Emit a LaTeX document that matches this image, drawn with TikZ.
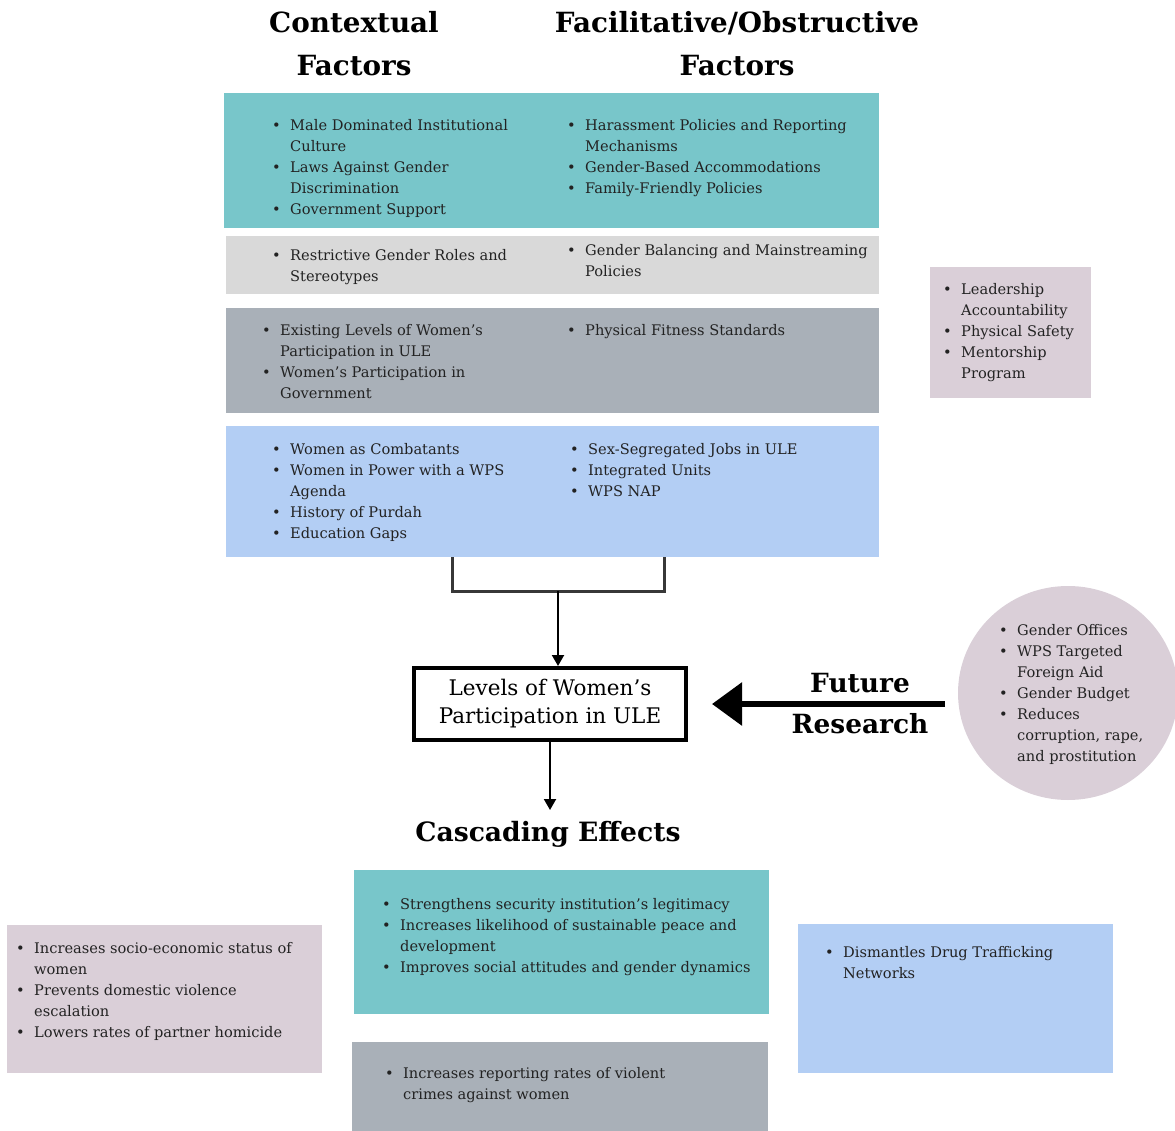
\documentclass[tikz,border=0pt]{standalone}
\usepackage{fontspec}
\setmainfont{DejaVu Serif}
\usetikzlibrary{arrows.meta,positioning,shapes.geometric}

\definecolor{tealbox}{HTML}{78C6CA}
\definecolor{lightbox}{HTML}{D9D9D9}
\definecolor{greybox}{HTML}{A9B0B8}
\definecolor{bluebox}{HTML}{B3CEF4}
\definecolor{mauvebox}{HTML}{DACFD8}
\definecolor{inkgrey}{HTML}{222222}

% bulleted list with fixed line breaks
\newcommand{\blist}[1]{\begin{tabular}[t]{@{}p{18pt}@{}l@{}}#1\end{tabular}}
\newcommand{\bi}{\textbullet &}

\begin{document}
\begin{tikzpicture}[%
    x=1pt, y=-1pt,
    >={Triangle[length=11pt,width=12pt]},
    box/.style={rectangle, inner sep=0pt, anchor=north west},
    lst/.style={anchor=base west, inner sep=0pt, text=inkgrey,
      font=\fontsize{14.6}{21}\selectfont},
    head/.style={align=center, inner sep=0pt,
      font=\bfseries\fontsize{27.8}{43}\selectfont}
  ]
  \clip (0,0) rectangle (1175,1131);

  % factor boxes
  \node[box, fill=tealbox,  minimum width=655pt, minimum height=135pt] (fac1) at (224,93) {};
  \node[box, fill=lightbox, minimum width=653pt, minimum height=58pt]  (fac2) at (226,236) {};
  \node[box, fill=greybox,  minimum width=653pt, minimum height=105pt] (fac3) at (226,308) {};
  \node[box, fill=bluebox,  minimum width=653pt, minimum height=131pt] (fac4) at (226,426) {};
  \node[box, fill=mauvebox, minimum width=161pt, minimum height=131pt] (side) at (930,267) {};

  \node[head] (ctx) at (354,44) {Contextual\\Factors};
  \node[head] (fob) at (737,44) {Facilitative/Obstructive\\Factors};

  \node[lst] (l1) at (272,131) {\blist{\bi Male Dominated Institutional\\ & Culture\\ \bi Laws Against Gender\\ & Discrimination\\ \bi Government Support}};
  \node[lst] (r1) at (567,131) {\blist{\bi Harassment Policies and Reporting\\ & Mechanisms\\ \bi Gender-Based Accommodations\\ \bi Family-Friendly Policies}};
  \node[lst] (l2) at (272,261) {\blist{\bi Restrictive Gender Roles and\\ & Stereotypes}};
  \node[lst] (r2) at (567,256) {\blist{\bi Gender Balancing and Mainstreaming\\ & Policies}};
  \node[lst] (l3) at (262,336) {\blist{\bi Existing Levels of Women's\\ & Participation in ULE\\ \bi Women's Participation in\\ & Government}};
  \node[lst] (r3) at (567,336) {\blist{\bi Physical Fitness Standards}};
  \node[lst] (l4) at (272,454) {\blist{\bi Women as Combatants\\ \bi Women in Power with a WPS\\ & Agenda\\ \bi History of Purdah\\ \bi Education Gaps}};
  \node[lst] (r4) at (570,454) {\blist{\bi Sex-Segregated Jobs in ULE\\ \bi Integrated Units\\ \bi WPS NAP}};
  \node[lst] (sl) at (943,295) {\blist{\bi Leadership\\ & Accountability\\ \bi Physical Safety\\ \bi Mentorship\\ & Program}};

  % bracket and arrow into the outcome box
  \coordinate (bl) at (452,557);
  \coordinate (br) at (664,557);
  \coordinate (brk) at (558,591);
  \draw[line width=3pt, color=inkgrey!90] (bl) -- (bl |- brk) -- (br |- brk) -- (br);

  \node[draw, line width=4pt, minimum width=272pt, minimum height=72pt, align=center,
    font=\fontsize{21.5}{28}\selectfont] (ule) at (550,704) {Levels of Women's\\Participation in ULE};
  \draw[->, line width=2pt] (brk) -- (brk |- ule.north);

  \node[head, font=\bfseries\fontsize{26.6}{40}\selectfont] (casc) at (548,834) {Cascading Effects};
  \draw[->, line width=2pt] (ule.south) -- ++(0,68);

  % future research
  \node[ellipse, fill=mauvebox, minimum width=220pt, minimum height=214pt] (fut) at (1068,693) {};
  \node[lst] (fl) at (999,635) {\blist{\bi Gender Offices\\ \bi WPS Targeted\\ & Foreign Aid\\ \bi Gender Budget\\ \bi Reduces\\ & corruption, rape,\\ & and prostitution}};
  \node[head, font=\bfseries\fontsize{26.4}{41}\selectfont] (frs) at (860,704) {Future\\Research};
  \coordinate (fr) at (945,704);
  \draw[-{Triangle[length=30pt,width=42pt]}, line width=6pt] (fr) -- ([xshift=24pt]ule.east);

  % cascading effects boxes
  \node[box, fill=tealbox,  minimum width=415pt, minimum height=144pt] (ce1) at (354,870) {};
  \node[box, fill=mauvebox, minimum width=315pt, minimum height=148pt] (ce2) at (7,925) {};
  \node[box, fill=greybox,  minimum width=416pt, minimum height=95pt]  (ce3) at (352,1042) {};
  \node[box, fill=bluebox,  minimum width=315pt, minimum height=149pt] (ce4) at (798,924) {};

  \node[lst] (c1) at (382,909) {\blist{\bi Strengthens security institution's legitimacy\\ \bi Increases likelihood of sustainable peace and\\ & development\\ \bi Improves social attitudes and gender dynamics}};
  \node[lst] (c2) at (16,953) {\blist{\bi Increases socio-economic status of\\ & women\\ \bi Prevents domestic violence\\ & escalation\\ \bi Lowers rates of partner homicide}};
  \node[lst] (c3) at (385,1078) {\blist{\bi Increases reporting rates of violent\\ & crimes against women}};
  \node[lst] (c4) at (825,957) {\blist{\bi Dismantles Drug Trafficking\\ & Networks}};
\end{tikzpicture}
\end{document}
